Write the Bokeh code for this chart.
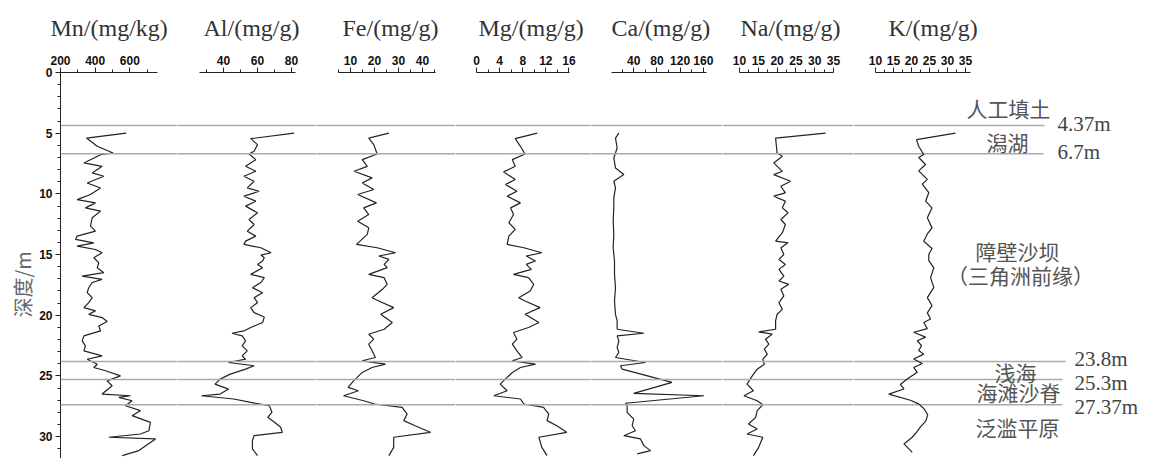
import math
from bokeh.plotting import figure
from bokeh.models import Range1d, FixedTicker, Span, Label, Title
from bokeh.layouts import row
from bokeh.embed import file_html
from bokeh.resources import INLINE

# ---------------- data (depth in m, element contents) ----------------
mn_depth = [5.0, 5.40, 6.08, 6.63, 6.77, 7.45, 7.73, 8.27, 8.55, 9.10, 9.51, 10.05, 10.47, 10.74,
            11.15, 11.42, 11.97, 12.66, 13.07, 13.48, 13.75, 14.03, 14.30, 14.58, 14.85, 15.26,
            15.67, 16.08, 16.49, 16.77, 17.04, 17.30, 17.73, 18.14, 18.55, 18.96, 19.37, 19.64,
            19.92, 20.19, 20.52, 20.88, 21.29, 21.70, 22.11, 22.52, 22.93, 23.34, 23.62, 24.03,
            24.30, 24.57, 24.99, 25.40, 25.81, 26.49, 26.63, 26.77, 27.04, 27.45, 27.86, 28.27,
            28.82, 29.51, 29.78, 30.05, 30.19, 31.15, 31.56]
mn = [579, 350, 412, 504, 431, 335, 440, 383, 450, 354, 431, 373, 296, 402,
      344, 431, 383, 373, 402, 296, 287, 392, 296, 402, 440, 392,
      421, 412, 450, 325, 440, 383, 363, 354, 383, 363, 335, 402,
      363, 440, 469, 421, 431, 335, 325, 344, 335, 440, 354, 412,
      392, 460, 546, 469, 498, 440, 604, 537, 613, 575, 661, 613,
      719, 710, 661, 479, 748, 652, 556]

al_depth = [5.0, 5.45, 5.94, 6.49, 6.71, 7.18, 7.73, 8.14, 8.55, 8.96, 9.51, 9.78, 10.19, 10.60,
            11.01, 11.56, 12.11, 12.52, 13.07, 13.48, 13.89, 14.16, 14.44, 14.85, 15.04, 15.26,
            15.53, 15.81, 16.08, 16.63, 16.90, 17.30, 17.73, 18.14, 18.55, 18.96, 19.37, 19.78,
            20.14, 20.60, 21.01, 21.29, 21.48, 21.70, 22.11, 22.52, 22.93, 23.34, 23.62, 23.89,
            24.16, 24.44, 24.85, 25.26, 25.67, 26.08, 26.49, 26.63, 26.90, 27.18, 27.45, 28.00,
            28.41, 28.82, 29.23, 29.64, 29.92, 30.33, 31.01, 31.56]
al = [81.5, 56, 60, 58, 55, 59, 53, 59, 52, 58, 54, 61, 52, 59,
      53, 60, 55, 58, 54, 59, 53, 52, 62, 68, 62, 64,
      63, 60, 63, 56, 64, 62, 57, 63, 58, 60, 56, 58,
      64, 63, 56, 52, 45, 51, 53, 51, 54, 51, 53, 43,
      58, 53, 44, 38, 35, 43, 38, 27, 46, 56, 67, 68.5,
      66, 70, 73.6, 74.6, 58, 57, 57, 60]

fe_depth = [5.0, 5.40, 5.94, 6.71, 7.18, 7.73, 8.14, 8.68, 9.10, 9.64, 10.05, 10.74, 11.15, 11.70,
            12.25, 12.79, 13.34, 14.16, 14.44, 14.85, 15.12, 15.40, 15.81, 16.08, 16.63, 16.90,
            17.45, 17.86, 18.55, 18.82, 19.37, 19.92, 20.60, 21.15, 21.56, 21.97, 22.38, 22.93,
            23.48, 23.75, 24.03, 24.30, 24.71, 25.40, 25.94, 26.22, 26.63, 27.04, 27.31, 27.59,
            28.14, 28.68, 29.10, 29.64, 30.05, 30.88, 31.56]
fe = [26, 17.6, 19.7, 21.1, 14.9, 17, 11.5, 19, 14.9, 19.7, 13, 20.8, 15.5, 17.6,
      13, 17.6, 17, 12.5, 21.1, 28.75, 21.8, 26, 24, 25.3, 17.6, 24,
      25.3, 23.3, 19, 21.8, 28, 22.6, 27.4, 24, 17.6, 19.7, 17.6, 19,
      20.4, 14.9, 24.6, 19, 14.9, 11.3, 9, 13.3, 7.1, 15.5, 20, 31.5,
      33.6, 32.2, 36.9, 43.3, 28, 28, 26]

mg_depth = [5.0, 5.45, 6.08, 6.71, 7.18, 7.73, 8.19, 8.82, 9.23, 9.78, 10.19, 10.74, 11.15, 11.70,
            12.38, 12.93, 13.48, 14.16, 14.44, 14.85, 15.12, 15.53, 15.81, 16.22, 16.63, 16.90,
            17.45, 18.00, 18.55, 18.82, 19.37, 19.92, 20.60, 21.01, 21.42, 21.97, 22.38, 22.93,
            23.48, 23.75, 24.03, 24.30, 24.71, 25.12, 25.67, 26.22, 26.63, 26.90, 27.31, 27.59,
            28.14, 28.68, 29.10, 29.64, 30.05, 30.88, 31.56]
mg = [10.5, 6.7, 7.6, 8.4, 6.2, 6.7, 4.7, 6.7, 5.0, 7.0, 5.3, 7.6, 5.9, 6.4,
      5.6, 6.7, 5.6, 5.3, 8.2, 11.3, 8.6, 10.2, 8.6, 9.5, 6.4, 9.0,
      9.9, 9.3, 7.3, 8.4, 11.0, 8.4, 10.8, 9.0, 6.4, 7.0, 6.2, 7.0,
      7.9, 6.2, 10.2, 7.6, 6.2, 5.3, 4.1, 5.3, 3.0, 7.6, 8.2, 11.6,
      12.5, 12.2, 13.9, 15.6, 10.8, 11.3, 12.2]

ca_depth = [5.0, 5.40, 6.22, 7.04, 7.86, 8.41, 8.96, 9.51, 10.33, 11.15, 12.25, 13.34, 14.44,
            15.53, 16.63, 17.73, 18.82, 19.92, 20.47, 21.15, 21.48, 21.70, 22.11, 22.66, 23.07,
            23.48, 23.89, 24.16, 24.44, 25.53, 26.44, 26.63, 27.25, 27.45, 28.00, 28.55, 29.10,
            29.51, 29.92, 30.19, 30.74, 31.15, 31.42]
ca = [14.4, 8.6, 11.5, 5.7, 8.6, 23, 5.7, 8.6, 5.7, 5.7, 4.6, 5.7, 4.6,
      6.9, 6.9, 8.6, 6.9, 8.6, 11.5, 11.5, 57.5, 11.5, 14.4, 11.5, 14.4,
      8.6, 60.3, 17.2, 20.1, 106, 40, 161, 25.9, 28.7, 28.7, 40, 37.4,
      43, 23, 51.7, 57.5, 69, 46]

na_depth = [5.0, 5.40, 6.63, 6.90, 7.45, 8.14, 8.41, 8.96, 9.37, 9.92, 10.19, 10.60, 11.15, 11.56,
            12.11, 12.52, 13.20, 13.89, 14.03, 14.44, 14.99, 15.40, 15.81, 16.22, 16.77, 17.18,
            17.45, 17.86, 18.41, 18.96, 19.51, 19.92, 20.47, 21.15, 21.37, 21.56, 21.97, 22.38,
            22.79, 23.21, 23.62, 24.03, 24.44, 24.99, 25.67, 26.22, 26.63, 27.04, 27.37, 27.86,
            28.41, 28.96, 29.37, 29.78, 30.05, 30.88, 31.56]
na = [32.9, 19.6, 20.0, 21.4, 19.1, 21.4, 19.1, 23.6, 21, 22.2, 19.1, 22.2, 21.4, 22.9,
      21, 22.2, 21.4, 19.6, 22.9, 21, 21.8, 20.5, 22.2, 20.5, 21.8, 20.5,
      23.1, 21, 21.8, 20.5, 21.4, 20, 19.6, 19.6, 15.1, 18.7, 16.9, 17.8,
      16.6, 17.4, 16.2, 16.6, 14.7, 13.4, 12, 13.7, 11.2, 14.7, 16.2, 14.7,
      14.3, 12.4, 14.7, 12, 16.2, 15.1, 13.7]

k_depth = [4.99, 5.53, 6.08, 6.76, 7.0, 7.58, 8.1, 8.8, 9.2, 9.9, 10.6, 11.15, 11.97, 12.8,
           13.3, 13.9, 14.5, 15.0, 15.5, 16.1, 16.9, 17.7, 18.55, 19.2, 19.8, 20.3, 20.6, 21.1,
           21.4, 21.8, 22.1, 22.5, 22.9, 23.2, 23.6, 23.97, 24.3, 24.7, 25.25, 25.7, 26.07, 26.5,
           27.0, 27.3, 27.7, 28.2, 28.7, 29.2, 29.6, 30.05, 30.6, 31.3]
k = [32.2, 21.4, 22, 23.4, 22, 23.9, 22, 24.4, 23, 24.8, 23.9, 25.7, 24.4, 25.7,
     24.4, 23.4, 25.7, 24.8, 24.8, 26.2, 25.3, 26.2, 24.4, 25.7, 24.4, 25.3, 23.4, 24.4,
     20.6, 23.9, 21.6, 22.8, 22, 23.4, 20.6, 23, 20.6, 21.6, 18.8, 16.9, 17.9, 13.7,
     19.7, 22, 23.5, 24.5, 24, 22.5, 21.5, 20.2, 17.9, 20.2]

titles = ["Mn/(mg/kg)", "Al/(mg/g)", "Fe/(mg/g)", "Mg/(mg/g)", "Ca/(mg/g)", "Na/(mg/g)", "K/(mg/g)"]
mn_ticks, mn_minor = [200, 400, 600], [300, 500, 700]
al_ticks, al_minor = [40, 60, 80], [30, 50, 70]
fe_ticks, fe_minor = [10, 20, 30, 40], [5, 15, 25, 35, 45]
mg_ticks, mg_minor = [0, 4, 8, 12, 16], [2, 6, 10, 14]
ca_ticks, ca_minor = [40, 80, 120, 160], [20, 60, 100, 140]
na_ticks, na_minor = [10, 15, 20, 25, 30, 35], [12.5, 17.5, 22.5, 27.5, 32.5]
k_ticks, k_minor = [10, 15, 20, 25, 30, 35], [12.5, 17.5, 22.5, 27.5, 32.5]
depth_ticks = [0, 5, 10, 15, 20, 25, 30]
depth_minor = list(range(0, 32))

boundary_depths = [4.37, 6.7, 23.8, 25.3, 27.37]
boundary_texts = ["4.37m", "6.7m", "23.8m", "25.3m", "27.37m"]
unit_texts = ["人工填土", "潟湖", "障壁沙坝", "（三角洲前缘）", "浅海", "海滩沙脊", "泛滥平原"]
depth_title = "深度/m"

# ---------------- layout (page pixels, origin at top-left of the picture) ----------------
TOP = 71.0          # y of depth 0
PPM = 12.17         # pixels per metre
H = 458
BT = int(TOP)       # top border inside canvas
DMAX = (H - BT) / PPM
LEFT_BORDER = 60

def depth_at(py):
    return (py - TOP) / PPM

# p0: x of value v0, kx: px per unit, frame: x extent of frame, tl: left x of title
specs = [
    dict(d=mn_depth, v=mn, t=titles[0], ticks=mn_ticks, minor=mn_minor, p0=60, v0=200, kx=0.1733,
         bounds=(200, 760), frame=(60, 177), tl=50),
    dict(d=al_depth, v=al, t=titles[1], ticks=al_ticks, minor=al_minor, p0=223, v0=40, kx=1.7,
         bounds=(25.9, 82.4), frame=(177, 316), tl=203),
    dict(d=fe_depth, v=fe, t=titles[2], ticks=fe_ticks, minor=fe_minor, p0=350, v0=10, kx=2.4,
         bounds=(5, 45.4), frame=(316, 455), tl=342),
    dict(d=mg_depth, v=mg, t=titles[3], ticks=mg_ticks, minor=mg_minor, p0=476, v0=0, kx=5.78,
         bounds=(0, 16.1), frame=(455, 590), tl=478),
    dict(d=ca_depth, v=ca, t=titles[4], ticks=ca_ticks, minor=ca_minor, p0=610, v0=0, kx=0.58,
         bounds=(1.5, 165.5), frame=(590, 722), tl=611),
    dict(d=na_depth, v=na, t=titles[5], ticks=na_ticks, minor=na_minor, p0=739, v0=10, kx=3.76,
         bounds=(10, 35), frame=(722, 853), tl=740),
    dict(d=k_depth, v=k, t=titles[6], ticks=k_ticks, minor=k_minor, p0=875, v0=10, kx=3.6,
         bounds=(10, 36.4), frame=(853, 1149), tl=888),
]

line_ends = [1044, 1043, 1065, 1062, 1062]
unit_pos = [(1008, 107), (1007, 141), (1017, 250), (1020, 274), (1015, 371), (1018, 391.5), (1017, 426.5)]
bnd_pos = [(1057, 122.5), (1057, 150.5), (1074, 358), (1074, 382), (1074, 406.5)]

TICK_FONT = "Liberation Sans"
figs = []
for i, s in enumerate(specs):
    first = i == 0
    last = i == len(specs) - 1
    tov = (lambda s: (lambda px: s["v0"] + (px - s["p0"]) / s["kx"]))(s)
    a, b = s["frame"]
    w = (b - a) + (LEFT_BORDER if first else 0)
    p = figure(width=w, height=H, x_range=Range1d(tov(a), tov(b)), y_range=Range1d(DMAX, 0),
               x_axis_location="above", y_axis_location="left" if first else None,
               toolbar_location=None, output_backend="svg",
               min_border_left=LEFT_BORDER if first else 0, min_border_right=0,
               min_border_top=BT, min_border_bottom=0)
    p.outline_line_color = None
    p.grid.visible = False
    p.background_fill_color = "white"
    p.border_fill_color = "white"

    ax = p.xaxis[0]
    ax.ticker = FixedTicker(ticks=s["ticks"], minor_ticks=s["minor"])
    ax.bounds = s["bounds"]
    ax.major_tick_out = 5
    ax.major_tick_in = 0
    ax.minor_tick_out = 3
    ax.minor_tick_in = 0
    ax.axis_line_color = "#222222"
    ax.major_tick_line_color = "#222222"
    ax.minor_tick_line_color = "#222222"
    ax.major_label_text_font = TICK_FONT
    ax.major_label_text_font_style = "bold"
    ax.major_label_text_font_size = "12px"
    ax.major_label_text_color = "#111111"
    ax.major_label_standoff = 3

    # panel title
    p.title.text = s["t"]
    p.title.align = "left"
    p.title.offset = s["tl"] - a
    p.title.text_font = "Liberation Serif"
    p.title.text_font_size = "24px"
    p.title.text_font_style = "normal"
    p.title.text_color = "#333333"
    p.title.standoff = 24

    if first:
        ya = p.yaxis[0]
        ya.ticker = FixedTicker(ticks=depth_ticks, minor_ticks=depth_minor)
        ya.major_tick_out = 5
        ya.major_tick_in = 0
        ya.minor_tick_out = 3
        ya.minor_tick_in = 0
        ya.axis_line_color = "#222222"
        ya.major_tick_line_color = "#222222"
        ya.minor_tick_line_color = "#222222"
        ya.major_label_text_font = TICK_FONT
        ya.major_label_text_font_style = "bold"
        ya.major_label_text_font_size = "12px"
        ya.major_label_text_color = "#111111"
        ya.major_label_standoff = 3
        p.add_layout(Title(text=depth_title, align="left", offset=H - 317,
                           text_font="Noto Sans CJK SC", text_font_size="20px",
                           text_font_style="normal", text_color="#666666", standoff=0), "left")

    # boundary lines
    if not last:
        for d in boundary_depths:
            p.add_layout(Span(location=d, dimension="width", line_color="#aaaaaa", line_width=1.5))
    else:
        x0 = tov(a)
        p.segment(x0=[x0] * len(boundary_depths), y0=boundary_depths,
                  x1=[tov(e) for e in line_ends], y1=boundary_depths,
                  line_color="#aaaaaa", line_width=1.5)
        for txt, (px, py) in zip(unit_texts, unit_pos):
            p.add_layout(Label(x=tov(px), y=depth_at(py), text=txt, text_align="center",
                               text_baseline="middle", text_font="Noto Sans CJK SC",
                               text_font_size="21px", text_color="#555555"))
        for txt, (px, py) in zip(boundary_texts, bnd_pos):
            p.add_layout(Label(x=tov(px), y=depth_at(py), text=txt, text_align="left",
                               text_baseline="middle", text_font="Liberation Serif",
                               text_font_size="21px", text_color="#444444"))

    # the element curve
    p.line(x=s["v"], y=s["d"], line_color="#222222", line_width=1.2)
    figs.append(p)

layout = row(*figs)
open("out.html", "w").write(file_html(layout, INLINE))
